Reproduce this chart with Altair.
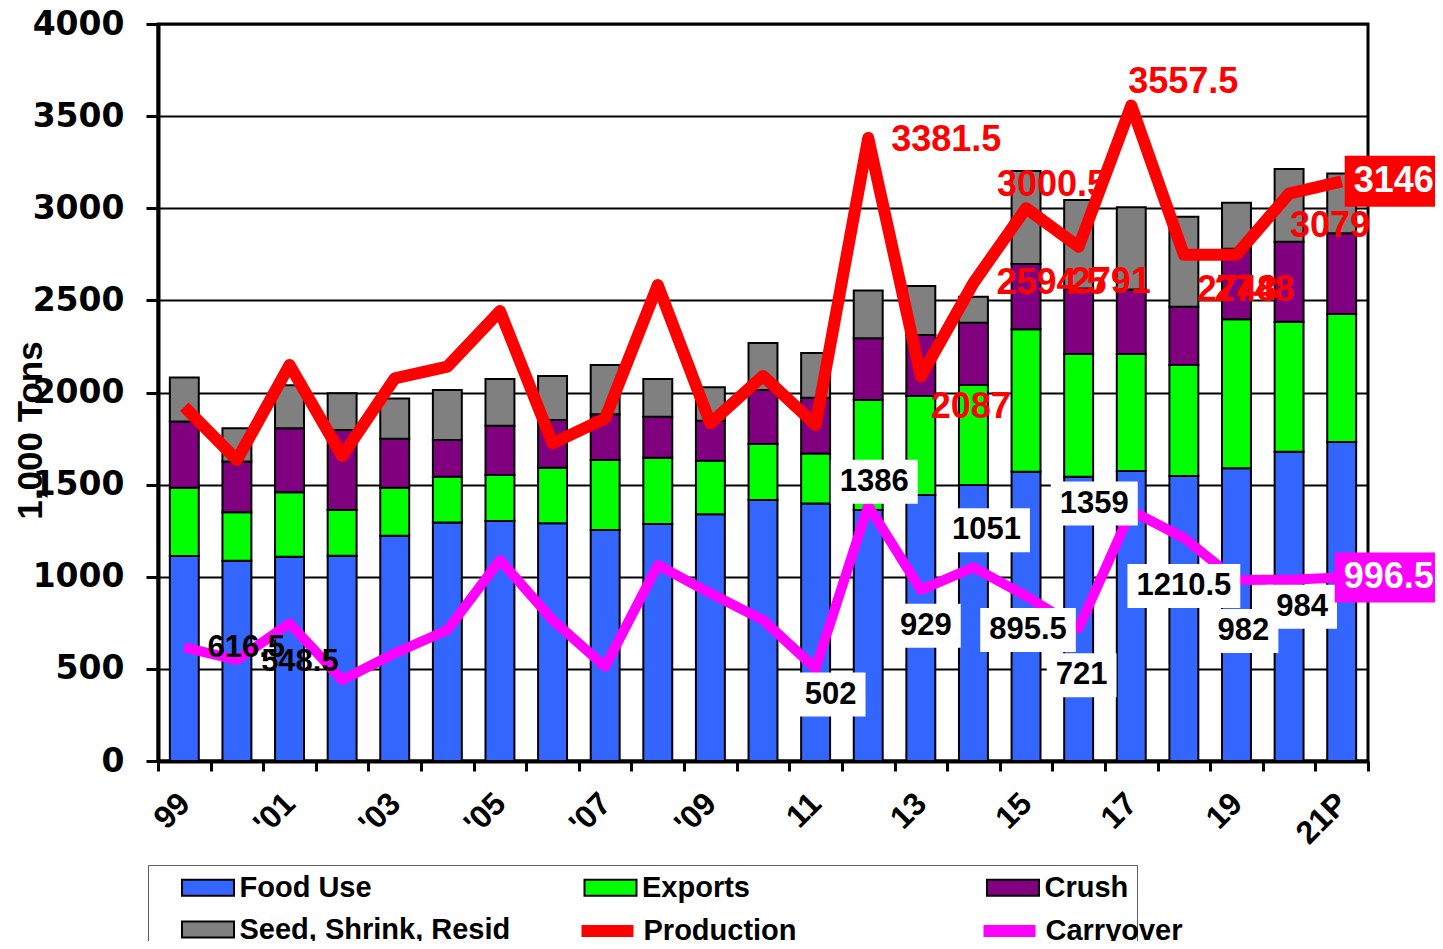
import json
import altair as alt
import pandas as pd

# ---------------- data ----------------
years = [str(y) for y in range(1999, 2022)]
tick_labels = ["99", "", "'01", "", "'03", "", "'05", "", "'07", "", "'09", "",
               "11", "", "13", "", "15", "", "17", "", "19", "", "21P"]

food_use = [1113, 1087, 1109, 1114, 1223, 1295, 1302, 1290, 1254, 1286, 1339, 1417,
            1398, 1362, 1444, 1498, 1570, 1543, 1574, 1547, 1589, 1679, 1731]
exports = [370, 263, 349, 248, 260, 248, 250, 302, 380, 360, 291, 303,
           271, 597, 537, 543, 773, 666, 635, 602, 808, 705, 695]
crush = [359, 275, 348, 434, 266, 199, 268, 259, 248, 223, 217, 293,
         303, 335, 331, 338, 354, 356, 350, 317, 383, 434, 438]
seed_shrink_resid = [240, 181, 234, 200, 219, 271, 253, 239, 267, 204, 181, 256,
                     242, 259, 266, 141, 505, 480, 446, 488, 250, 395, 325]
production = [1923, 1634, 2149, 1655, 2077, 2140, 2442, 1724, 1860, 2583, 1833, 2090,
              1824, 3381.5, 2087, 2594.5, 3000.5, 2791, 3557.5, 2748, 2748, 3079, 3146]
carryover = [616.5, 548.5, 747, 440, 585, 711, 1091, 765, 512, 1064, 910, 765,
             502, 1386, 929, 1051, 895.5, 721, 1359, 1210.5, 982, 984, 996.5]

bar_series = ["Food Use", "Exports", "Crush", "Seed, Shrink, Resid"]
bar_colors = ["#3366FF", "#00FF00", "#800080", "#808080"]
line_series = ["Production", "Carryover"]
line_colors = ["#FF0000", "#FF00FF"]

# label layout (pixel offsets of each data label from its point)
prod_label_offsets = {"2012": (78, 2), "2013": (50, 31), "2014": (78, 0), "2015": (26, -23),
                      "2016": (32, 35), "2017": (52, -24), "2018": (53, 35), "2019": (18, 35),
                      "2020": (41, 32)}
prod_last_offset = (52, 0)
carry_plain_offsets = {"1999": (62, 1), "2000": (63, 2)}
carry_box_offsets = {"2011": (15, 26), "2012": (6, -24), "2013": (5, 36), "2014": (13, -37),
                     "2015": (2, 34), "2016": (3, 47), "2017": (-37, -7), "2018": (0, 48),
                     "2019": (7, 51), "2020": (13, 27)}
carry_last_offset = (47, 0)

# ---------------- tables ----------------
bar_rows = []
for i, y in enumerate(years):
    for k, arr in enumerate([food_use, exports, crush, seed_shrink_resid]):
        bar_rows.append({"year": y, "series": bar_series[k], "value": arr[i], "order": k})
bar_df = pd.DataFrame(bar_rows)


def fmt(v):
    return f"{v:g}"


line_rows = []
for i, y in enumerate(years):
    line_rows.append({"year": y, "series": "Production", "value": production[i], "text": fmt(production[i])})
    line_rows.append({"year": y, "series": "Carryover", "value": carryover[i], "text": fmt(carryover[i])})
line_df = pd.DataFrame(line_rows)

# ---------------- scales / axes ----------------
label_expr = "%s[indexof(%s, datum.value)]" % (json.dumps(tick_labels), json.dumps(years))

x_scale = alt.Scale(domain=years, paddingInner=0, paddingOuter=0)
y_scale = alt.Scale(domain=[0, 4000], nice=False)

x_axis = alt.Axis(title=None, labelExpr=label_expr, labelAngle=-45, labelAlign="right",
                  labelBaseline="middle", labelFont="Liberation Sans",
                  labelFontWeight="bold", labelFontSize=32, labelColor="black", labelPadding=27,
                  labelOverlap=False, labelFlush=False, labelBound=False, tickBand="extent",
                  tickSize=10, tickWidth=3, tickColor="black", domainColor="black",
                  domainWidth=4, grid=False)
y_axis = alt.Axis(title="1,000 Tons", titleX=-128, titleY=406, titleAngle=-90,
                  titleFont="Liberation Sans", titleFontWeight="bold", titleFontSize=35,
                  titleColor="black", titleAlign="center", titleBaseline="middle",
                  values=list(range(0, 4001, 500)), format="d",
                  labelFont="DejaVu Sans", labelFontWeight="bold", labelFontSize=33,
                  labelColor="black", labelPadding=22, labelFlush=False, labelOverlap=False,
                  tickSize=12, tickWidth=3, tickColor="black", domainColor="black",
                  domainWidth=4, grid=True, gridColor="black", gridWidth=2)

legend_text = dict(labelFont="Liberation Sans", labelFontWeight="bold", labelFontSize=29,
                   labelColor="black", labelLimit=600)
bar_legend = alt.Legend(title=None, orient="none", legendX=-10, legendY=841,
                        direction="horizontal", columns=3, gridAlign="all",
                        columnPadding=47.5, rowPadding=12,
                        symbolType="M-2.6,-0.8H2.6V0.8H-2.6Z", symbolSize=400,
                        symbolOffset=37.5, symbolStrokeColor="black", symbolStrokeWidth=2,
                        symbolOpacity=1, labelOffset=17, padding=8,
                        strokeColor="#606060", **legend_text)
line_legend = alt.Legend(title=None, orient="none", legendX=393, legendY=883,
                         direction="horizontal", columns=2, gridAlign="all",
                         columnPadding=162, rowPadding=12,
                         symbolType="M-2.6,0H2.6", symbolSize=400,
                         symbolOffset=32.5, symbolStrokeWidth=12,
                         symbolOpacity=1, labelOffset=20, padding=8, **legend_text)


def X():
    return alt.X("year:N", sort=years, scale=x_scale, axis=x_axis)


def Y(stack=None):
    if stack:
        return alt.Y("value:Q", stack="zero", scale=y_scale, axis=y_axis)
    return alt.Y("value:Q", stack=None, scale=y_scale, axis=y_axis)


fill_enc = alt.Fill("series:N", scale=alt.Scale(domain=bar_series, range=bar_colors),
                    legend=bar_legend, sort=bar_series)
stroke_enc = alt.Stroke("series:N", scale=alt.Scale(domain=line_series, range=line_colors),
                        legend=line_legend, sort=line_series)

bars = alt.Chart(bar_df).mark_bar(stroke="black", strokeWidth=2, width={"band": 0.55}).encode(
    x=X(), y=Y(stack=True), fill=fill_enc, order=alt.Order("order:Q", sort="ascending"))

prod_line = alt.Chart(line_df).transform_filter(alt.datum.series == "Production").mark_line(
    strokeWidth=12, strokeJoin="round", strokeCap="butt").encode(x=X(), y=Y(), stroke=stroke_enc)
carry_line = alt.Chart(line_df).transform_filter(alt.datum.series == "Carryover").mark_line(
    strokeWidth=10, strokeJoin="round", strokeCap="butt").encode(x=X(), y=Y(), stroke=stroke_enc)

layers = [bars, prod_line, carry_line]


def box_path(w, h):
    return f"M{-w / 2:.1f},{-h / 2:.1f}H{w / 2:.1f}V{h / 2:.1f}H{-w / 2:.1f}Z"


def text_width(s, fs):
    return sum(0.556 * fs if c.isdigit() else 0.278 * fs for c in s)


def one(series, year):
    return alt.Chart(line_df).transform_filter(
        (alt.datum.series == series) & (alt.datum.year == year))


carry_text = dict(zip(years, [fmt(v) for v in carryover]))

# white boxes behind carryover labels
for y, (dx, dy) in carry_box_offsets.items():
    w = text_width(carry_text[y], 31) + 18
    layers.append(one("Carryover", y).mark_point(
        shape=box_path(w, 44), size=4, filled=True, fill="white", opacity=1, strokeWidth=0,
        xOffset=dx, yOffset=dy).encode(x=X(), y=Y()))
# coloured boxes for the last points
layers.append(one("Carryover", "2021").mark_point(
    shape=box_path(108, 50), size=4, filled=True, fill="#FF00FF", opacity=1, strokeWidth=0,
    xOffset=carry_last_offset[0], yOffset=carry_last_offset[1]).encode(x=X(), y=Y()))
layers.append(one("Production", "2021").mark_point(
    shape=box_path(98, 51), size=4, filled=True, fill="#FF0000", opacity=1, strokeWidth=0,
    xOffset=prod_last_offset[0], yOffset=prod_last_offset[1]).encode(x=X(), y=Y()))

text_style = dict(font="Liberation Sans", fontWeight="bold", align="center", baseline="middle")
for y, (dx, dy) in list(carry_plain_offsets.items()) + list(carry_box_offsets.items()):
    layers.append(one("Carryover", y).mark_text(
        fontSize=31, color="black", dx=dx, dy=dy, **text_style).encode(x=X(), y=Y(), text="text:N"))
layers.append(one("Carryover", "2021").mark_text(
    fontSize=36, color="white", dx=carry_last_offset[0], dy=carry_last_offset[1], **text_style
).encode(x=X(), y=Y(), text="text:N"))
for y, (dx, dy) in prod_label_offsets.items():
    layers.append(one("Production", y).mark_text(
        fontSize=36, color="#FF0000", dx=dx, dy=dy, **text_style).encode(x=X(), y=Y(), text="text:N"))
layers.append(one("Production", "2021").mark_text(
    fontSize=36, color="white", dx=prod_last_offset[0], dy=prod_last_offset[1], **text_style
).encode(x=X(), y=Y(), text="text:N"))

chart = alt.layer(*layers).properties(
    width=1210, height=737,
    padding={"left": 150, "top": 16, "right": 67, "bottom": 180},
    autosize="none",
    background="white",
).configure_view(stroke="black", strokeWidth=3)

chart.save("out.html", embed_options={"renderer": "svg", "actions": False})
